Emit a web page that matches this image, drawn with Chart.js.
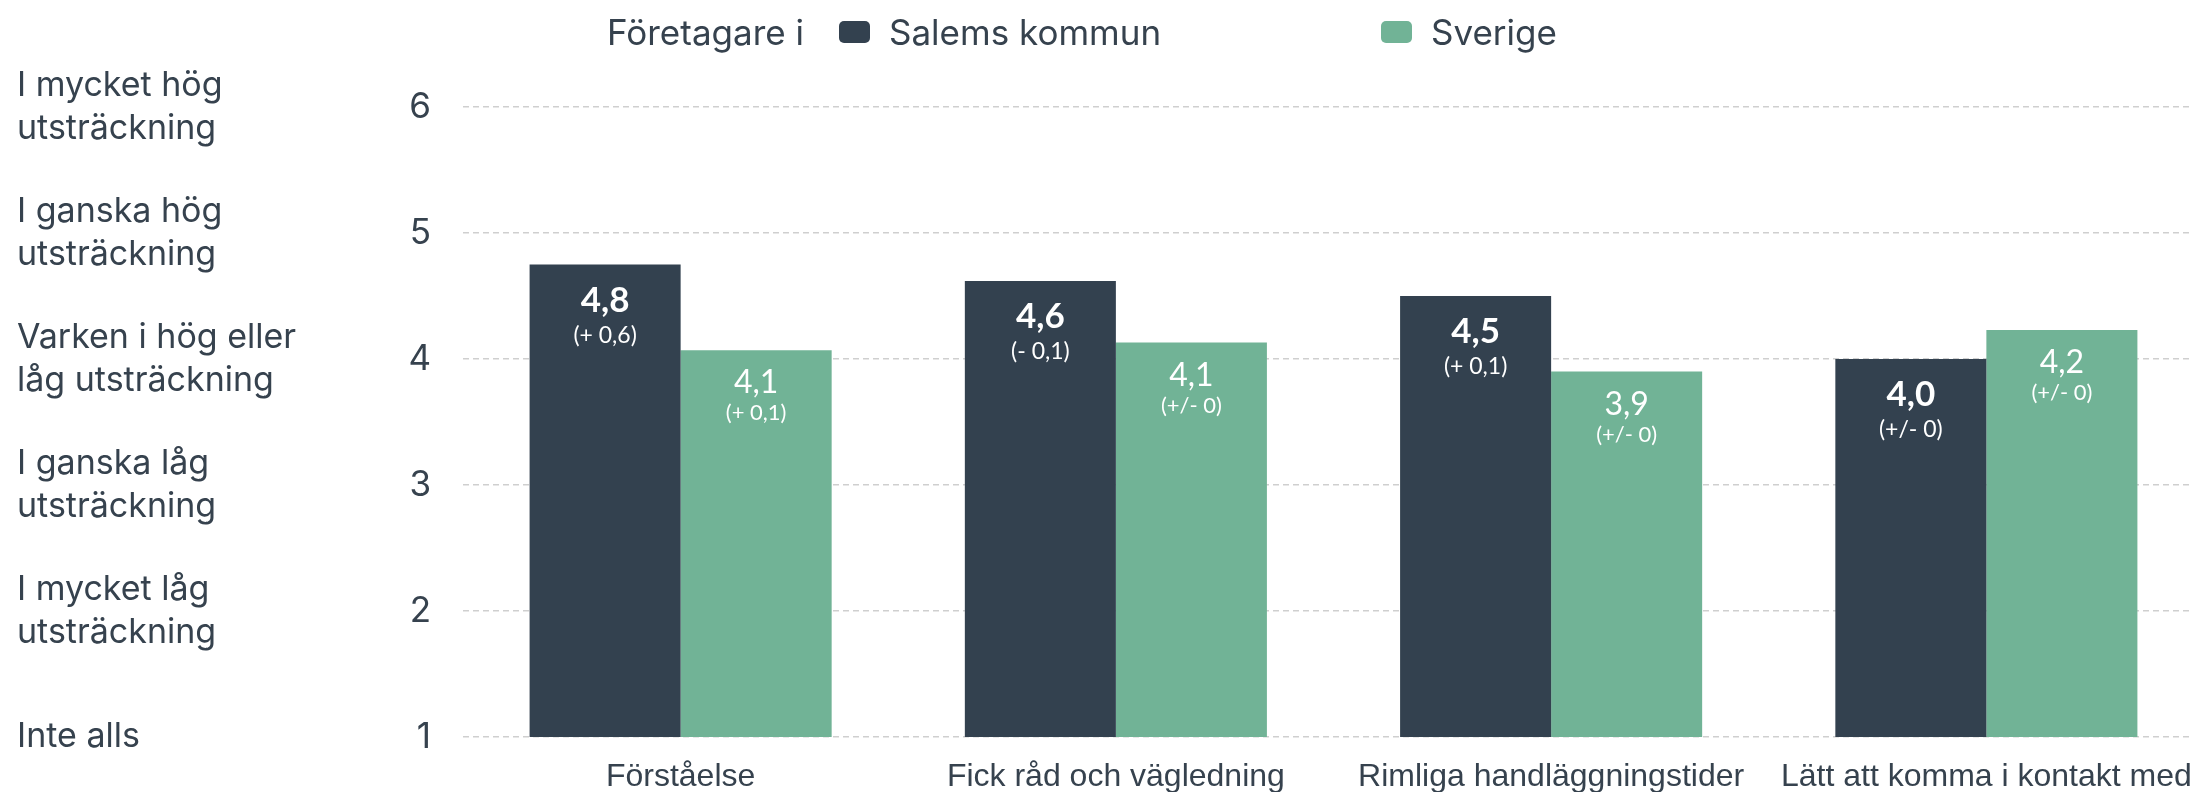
<!DOCTYPE html>
<html>
<head>
<meta charset="utf-8">
<script src="https://cdn.jsdelivr.net/npm/chart.js@4.4.1/dist/chart.umd.min.js"></script>
<style>
  html, body { margin: 0; padding: 0; background: #fff; overflow: hidden; width: 2192px; height: 792px; }
  #wrap { position: relative; width: 2192px; height: 792px; overflow: hidden; }
  #chart { position: absolute; left: 0; top: 0; }
  #legend { position: absolute; left: 0; top: 0; width: 2192px; height: 64px; font-family: Inter, sans-serif; font-size: 35px; color: #36424e; }
  #legend span { position: absolute; top: 11px; line-height: 42px; white-space: nowrap; }
  #legend i { position: absolute; top: 21px; width: 31px; height: 22px; border-radius: 5px; }
</style>
</head>
<body>
<div id="wrap">
  <canvas id="chart" width="2204" height="792"></canvas>
  <div id="legend"></div>
</div>
<script>
// Kategorier (x-axeln)
const kategorier = ["Förståelse", "Fick råd och vägledning", "Rimliga handläggningstider", "Lätt att komma i kontakt med"];
// Serier
const serieNamn = ["Salems kommun", "Sverige"];
const salem = [4.75, 4.62, 4.5, 4.0];
const sverige = [4.07, 4.13, 3.9, 4.23];
// Förändring jämfört med tidigare mätning
const salemDiff = ["(+ 0,6)", "(- 0,1)", "(+ 0,1)", "(+/- 0)"];
const sverigeDiff = ["(+ 0,1)", "(+/- 0)", "(+/- 0)", "(+/- 0)"];
// Skalans textetiketter (1..6)
const skalNivaer = [
  "Inte alls",
  ["I mycket låg", "utsträckning"],
  ["I ganska låg", "utsträckning"],
  ["Varken i hög eller", "låg utsträckning"],
  ["I ganska hög", "utsträckning"],
  ["I mycket hög", "utsträckning"]
];
const legendTitel = "Företagare i";

const farger = ["#33414f", "#71b396"];
const textFarg = "#36424e";

// ritar värdet och förändringen inne i staplarna
const stapelEtiketter = {
  id: "stapelEtiketter",
  afterDatasetsDraw(chart) {
    const ctx = chart.ctx;
    ctx.save();
    ctx.textAlign = "center";
    ctx.textBaseline = "middle";
    ctx.fillStyle = "#ffffff";
    chart.data.datasets.forEach((ds, di) => {
      let meta = chart.getDatasetMeta(di);
      meta.data.forEach((bar, i) => {
        let varde = ds.data[i].toFixed(1).replace(".", ",");
        if (di === 0) {
          ctx.font = "bold 35px Lato";
          ctx.fillText(varde, bar.x, bar.y + 36);
          ctx.font = "23px Lato";
          ctx.fillText(ds.diff[i], bar.x, bar.y + 71);
        } else {
          ctx.font = "32px Lato";
          ctx.fillText(varde, bar.x, bar.y + 33);
          ctx.font = "22px Lato";
          ctx.fillText(ds.diff[i], bar.x, bar.y + 63);
        }
      });
    });
    ctx.restore();
  }
};

const chart = new Chart(document.getElementById("chart"), {
  type: "bar",
  data: {
    labels: kategorier,
    datasets: [
      { label: serieNamn[0], data: salem, diff: salemDiff, backgroundColor: farger[0] },
      { label: serieNamn[1], data: sverige, diff: sverigeDiff, backgroundColor: farger[1] }
    ]
  },
  options: {
    responsive: false,
    animation: false,
    categoryPercentage: 0.694,
    barPercentage: 1,
    layout: { padding: { top: 107, left: 17, right: 0, bottom: 0 } },
    plugins: {
      legend: { display: false },
      tooltip: { enabled: false }
    },
    scales: {
      x: {
        grid: { display: false, drawTicks: false },
        border: { display: false },
        ticks: {
          color: textFarg,
          padding: 21,
          maxRotation: 0,
          autoSkip: false,
          font: { family: "'Liberation Sans', Arial, sans-serif", size: 32 }
        },
        afterFit(s) {
          s.height = 55;
          s.paddingLeft = 0;
          s.paddingRight = 0;
        }
      },
      y: {
        position: "left",
        weight: 0,
        min: 1,
        max: 6,
        grid: { color: "#cfcfcf", lineWidth: 1.5, drawTicks: false },
        border: { display: false, dash: [6, 4] },
        ticks: {
          stepSize: 1,
          color: textFarg,
          padding: 32,
          font: { family: "Inter, sans-serif", size: 35 }
        },
        afterFit(s) {
          s.width = 62;
          s.paddingTop = 0;
          s.paddingBottom = 0;
        }
      },
      niva: {
        type: "linear",
        position: "left",
        weight: 10,
        min: 1,
        max: 6,
        grid: { display: false },
        border: { display: false },
        ticks: {
          stepSize: 1,
          crossAlign: "far",
          color: textFarg,
          font: { family: "Inter, sans-serif", size: 34, lineHeight: 1.27 },
          callback: (v) => skalNivaer[v - 1]
        },
        afterFit(s) {
          s.width = 384;
          s.paddingTop = 0;
          s.paddingBottom = 0;
        }
      }
    }
  },
  plugins: [stapelEtiketter]
});

// HTML-legend byggd från diagrammets dataserier
const legend = document.getElementById("legend");
let titel = document.createElement("span");
titel.style.left = "607px";
titel.innerText = legendTitel;
legend.appendChild(titel);
const boxX = [839, 1381];
chart.data.datasets.forEach((ds, i) => {
  let box = document.createElement("i");
  box.style.left = boxX[i] + "px";
  box.style.background = ds.backgroundColor;
  legend.appendChild(box);
  let txt = document.createElement("span");
  txt.style.left = (boxX[i] + 50) + "px";
  txt.innerText = ds.label;
  legend.appendChild(txt);
});
</script>
</body>
</html>
